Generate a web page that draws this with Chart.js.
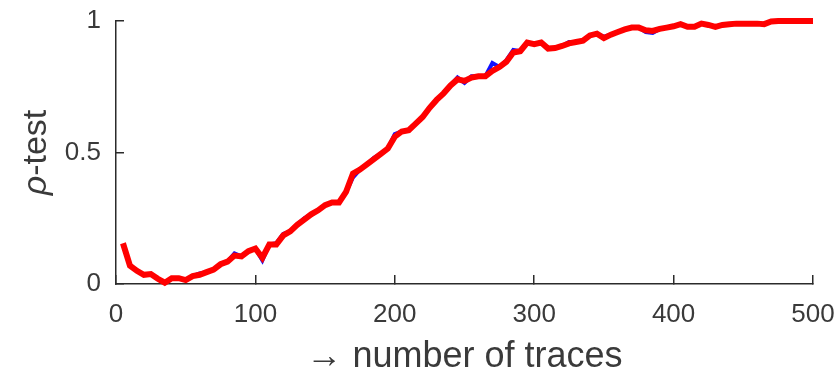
<!DOCTYPE html>
<html>
<head>
<meta charset="utf-8">
<script src="https://cdn.jsdelivr.net/npm/chart.js@4/dist/chart.umd.min.js"></script>
<style>
  body { margin: 0; background: #fff; }
  #wrap { width: 838px; height: 370px; }
</style>
</head>
<body>
<div id="wrap"><canvas id="my-chart" width="838" height="370"></canvas></div>
<script>
'use strict';

// *** Data ***

let traceCounts = [
  5, 10, 15, 20, 25, 30, 35, 40, 45, 50,
  55, 60, 65, 70, 75, 80, 85, 90, 95, 100,
  105, 110, 115, 120, 125, 130, 135, 140, 145, 150,
  155, 160, 165, 170, 175, 180, 185, 190, 195, 200,
  205, 210, 215, 220, 225, 230, 235, 240, 245, 250,
  255, 260, 265, 270, 275, 280, 285, 290, 295, 300,
  305, 310, 315, 320, 325, 330, 335, 340, 345, 350,
  355, 360, 365, 370, 375, 380, 385, 390, 395, 400,
  405, 410, 415, 420, 425, 430, 435, 440, 445, 450,
  455, 460, 465, 470, 475, 480, 485, 490, 495, 500
];

let redValues = [
  0.155, 0.07, 0.05, 0.035, 0.038, 0.02, 0.005, 0.022, 0.022, 0.015,
  0.03, 0.035, 0.045, 0.055, 0.075, 0.085, 0.108, 0.105, 0.125, 0.135,
  0.1, 0.15, 0.15, 0.185, 0.2, 0.225, 0.245, 0.265, 0.28, 0.3,
  0.31, 0.31, 0.35, 0.42, 0.435, 0.455, 0.475, 0.495, 0.515, 0.56,
  0.58, 0.585, 0.61, 0.635, 0.67, 0.7, 0.725, 0.755, 0.778, 0.772,
  0.785, 0.79, 0.79, 0.81, 0.825, 0.845, 0.88, 0.885, 0.918, 0.912,
  0.918, 0.895, 0.897, 0.905, 0.915, 0.92, 0.925, 0.945, 0.952, 0.935,
  0.948, 0.958, 0.968, 0.975, 0.975, 0.965, 0.962, 0.97, 0.975, 0.98,
  0.988, 0.978, 0.978, 0.99, 0.985, 0.978, 0.985, 0.988, 0.99, 0.99,
  0.99, 0.99, 0.988, 0.998, 1.0, 1.0, 1.0, 1.0, 1.0, 1.0
];

let blueValues = [
  0.15, 0.07, 0.05, 0.035, 0.038, 0.02, 0.005, 0.022, 0.022, 0.015,
  0.03, 0.04, 0.045, 0.055, 0.075, 0.085, 0.116, 0.105, 0.125, 0.135,
  0.09, 0.15, 0.155, 0.19, 0.2, 0.225, 0.25, 0.265, 0.28, 0.3,
  0.31, 0.31, 0.35, 0.405, 0.435, 0.455, 0.48, 0.495, 0.515, 0.57,
  0.58, 0.585, 0.61, 0.635, 0.67, 0.7, 0.725, 0.755, 0.785, 0.765,
  0.79, 0.79, 0.79, 0.84, 0.825, 0.85, 0.89, 0.885, 0.918, 0.912,
  0.918, 0.895, 0.897, 0.905, 0.92, 0.92, 0.925, 0.945, 0.952, 0.94,
  0.948, 0.958, 0.968, 0.975, 0.975, 0.958, 0.955, 0.97, 0.975, 0.98,
  0.988, 0.978, 0.978, 0.99, 0.985, 0.978, 0.985, 0.988, 0.99, 0.99,
  0.99, 0.99, 0.988, 0.998, 1.0, 1.0, 1.0, 1.0, 1.0, 1.0
];

let xTicks = [0, 100, 200, 300, 400, 500];
let yTicks = [0, 0.5, 1];

let xTitle = '\u2192 number of traces';
let yTitleSymbol = '\u03c1';
let yTitleRest = '-test';

// *** Helpers ***

let textColor = '#3a3a3a';
let axisColor = '#2b2b2b';
let fontFamily = '"Liberation Sans", Arial, Helvetica, sans-serif';

function toPoints(xs, ys) {
  let points = [];
  for (let i = 0; i < xs.length; i++) {
    points.push({ x: xs[i], y: ys[i] });
  }
  return points;
}

// Y title with an italic rho, drawn next to the y axis
let yTitlePlugin = {
  id: 'yTitle',
  afterDraw(chart) {
    let c = chart.ctx;
    let area = chart.chartArea;
    let italic = 'italic 34px ' + fontFamily;
    let normal = '34px ' + fontFamily;
    c.save();
    c.font = italic;
    let w1 = c.measureText(yTitleSymbol).width;
    c.font = normal;
    let w2 = c.measureText(yTitleRest).width;
    c.translate(46, (area.top + area.bottom) / 2);
    c.rotate(-Math.PI / 2);
    c.fillStyle = textColor;
    c.textBaseline = 'alphabetic';
    c.textAlign = 'left';
    let start = -(w1 + w2) / 2;
    c.font = italic;
    c.fillText(yTitleSymbol, start, 0);
    c.font = normal;
    c.fillText(yTitleRest, start + w1, 0);
    c.restore();
  }
};

// *** Chart ***

let ctx = document.getElementById('my-chart');

let chartObj = {
  type: 'line',
  data: {
    datasets: [
      {
        label: 'red',
        data: toPoints(traceCounts, redValues),
        borderColor: '#ff0000',
        borderWidth: 6,
        pointRadius: 0,
        tension: 0,
        clip: false,
        order: 0
      },
      {
        label: 'blue',
        data: toPoints(traceCounts, blueValues),
        borderColor: '#1010ff',
        borderWidth: 4,
        pointRadius: 0,
        tension: 0,
        clip: false,
        order: 1
      }
    ]
  },
  options: {
    responsive: false,
    animation: false,
    layout: { padding: { left: 0, right: 25, top: 21, bottom: 0 } },
    plugins: {
      legend: { display: false },
      tooltip: { enabled: false }
    },
    scales: {
      x: {
        type: 'linear',
        min: 0,
        max: 500,
        afterFit(scale) {
          scale.height = 86;
          scale.paddingLeft = 0;
          scale.paddingRight = 0;
        },
        afterBuildTicks(scale) { scale.ticks = xTicks.map(v => ({ value: v })); },
        border: { display: true, color: axisColor, width: 1.5 },
        grid: { drawOnChartArea: false, tickLength: -9, color: axisColor, lineWidth: 1.5 },
        ticks: {
          color: textColor,
          font: { family: fontFamily, size: 26 },
          padding: 24,
          maxRotation: 0,
          callback: v => String(v)
        },
        title: {
          display: true,
          text: xTitle,
          color: textColor,
          font: { family: fontFamily, size: 36, lineHeight: 1 },
          padding: { top: 0, bottom: -5 }
        }
      },
      y: {
        type: 'linear',
        min: 0,
        max: 1,
        afterFit(scale) {
          scale.width = 116;
          scale.paddingTop = 0;
          scale.paddingBottom = 0;
        },
        afterBuildTicks(scale) { scale.ticks = yTicks.map(v => ({ value: v })); },
        border: { display: true, color: axisColor, width: 1.5 },
        grid: { drawOnChartArea: false, tickLength: -8, color: axisColor, lineWidth: 1.5 },
        ticks: {
          color: textColor,
          font: { family: fontFamily, size: 26 },
          padding: 23,
          callback: v => String(v)
        }
      }
    }
  },
  plugins: [yTitlePlugin]
};

new Chart(ctx, chartObj);
</script>
</body>
</html>
